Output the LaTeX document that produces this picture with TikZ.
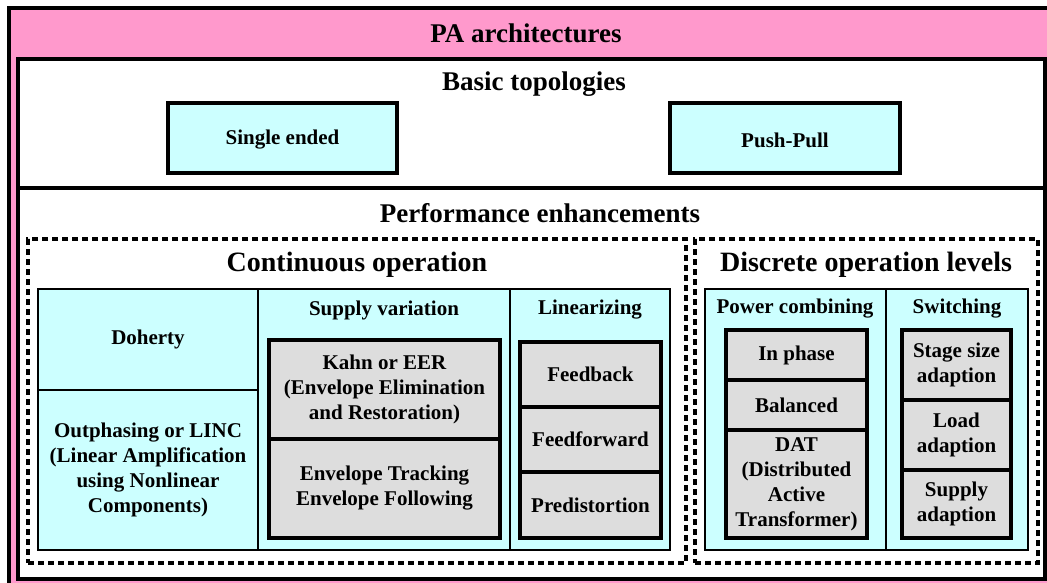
\documentclass[tikz,border=0pt]{standalone}
\usepackage{fontspec}
\setmainfont{Liberation Serif}
\usetikzlibrary{fit}
\definecolor{pinkfill}{HTML}{FF99CC}
\definecolor{cyanfill}{HTML}{CCFFFF}
\definecolor{grayfill}{HTML}{DDDDDD}
\begin{document}
\begin{tikzpicture}[x=1pt,y=-1pt,
  every node/.style={align=center},
  font=\bfseries\fontsize{21}{25}\selectfont,
  frame/.style={draw, line width=3.2pt, rectangle, inner sep=0pt},
  whitebox/.style={frame, fill=white},
  cyanbox/.style={frame, fill=cyanfill},
  cyancol/.style={frame, line width=2.8pt, fill=cyanfill},
  graybox/.style={frame, fill=grayfill},
  dashbox/.style={draw, line width=3.2pt, dash pattern=on 6pt off 4pt, rectangle, inner sep=0pt},
  bigtitle/.style={font=\bfseries\fontsize{27}{32}\selectfont, inner sep=0pt},
  bigger/.style={font=\bfseries\fontsize{28}{33}\selectfont, inner sep=0pt},
  hdr/.style={inner sep=0pt}]
\useasboundingbox (0,0) rectangle (1047,582);

% outer frame
\node[frame, fill=pinkfill, fit={(9,8) (1058,595)}] (outer) {};
\node[bigtitle] (patitle) at (526,33) {PA architectures};

% basic topologies
\node[whitebox, fit={(18,59) (1045,188)}] (basic) {};
\node[bigtitle] (basictitle) at (534,84) {Basic topologies};
\node[cyanbox, fit={(168,103) (397,173)}] (single) {};
\node at ([yshift=-2pt]single.center) {Single ended};
\node[cyanbox, fit={(670,103) (900,173)}] (pushpull) {};
\node at ([yshift=-2pt]pushpull.center) {Push-Pull};

% performance enhancements
\node[whitebox, fit={(18,188) (1045,579)}] (perf) {};
\node[bigtitle] (perftitle) at (540,213) {Performance enhancements};

% continuous operation
\node[dashbox, fit={(28,239) (686,563)}] (cont) {};
\node[bigger] (conttitle) at (357,265) {Continuous operation};

\node[cyancol, fit={(38,289) (258,390)}] (doherty) {};
\node at (doherty.center) {Doherty};
\node[cyancol, fit={(38,390) (258,550)}] (outph) {};
\node at (outph.center) {Outphasing or LINC\\(Linear Amplification\\using Nonlinear\\Components)};

\node[cyancol, fit={(258,289) (510,550)}] (supcol) {};
\node[hdr] (suphdr) at (384,310) {Supply variation};
\node[graybox, fit={(269,340) (500,439)}] (kahn) {};
\node at (kahn.center) {Kahn or EER\\(Envelope Elimination\\and Restoration)};
\node[graybox, fit={(269,439) (500,538)}] (envtrack) {};
\node at (envtrack.center) {Envelope Tracking\\Envelope Following};

\node[cyancol, fit={(510,289) (670,550)}] (lincol) {};
\node[hdr] (linhdr) at (590,310) {Linearizing};
\node[graybox, fit={(520,342) (661,407)}] (feedback) {};
\node at (feedback.center) {Feedback};
\node[graybox, fit={(520,407) (661,472)}] (feedfwd) {};
\node at (feedfwd.center) {Feedforward};
\node[graybox, fit={(520,472) (661,538)}] (predist) {};
\node at (predist.center) {Predistortion};

% discrete operation levels
\node[dashbox, fit={(695,239) (1038,563)}] (disc) {};
\node[bigger] (disctitle) at (866,265) {Discrete operation levels};

\node[cyancol, fit={(705,289) (886,550)}] (pwrcol) {};
\node[hdr] (pwrhdr) at (795,309) {Power combining};
\node[graybox, fit={(726,330) (867,380)}] (inphase) {};
\node at (inphase.center) {In phase};
\node[graybox, fit={(726,380) (867,430)}] (balanced) {};
\node at (balanced.center) {Balanced};
\node[graybox, fit={(726,430) (867,538)}] (dat) {};
\node at (dat.center) {DAT\\(Distributed\\Active\\Transformer)};

\node[cyancol, fit={(886,289) (1028,550)}] (swcol) {};
\node[hdr] (swhdr) at (957,309) {Switching};
\node[graybox, fit={(902,330) (1011,400)}] (stage) {};
\node at (stage.center) {Stage size\\adaption};
\node[graybox, fit={(902,400) (1011,470)}] (load) {};
\node at (load.center) {Load\\adaption};
\node[graybox, fit={(902,470) (1011,538)}] (supply) {};
\node at (supply.center) {Supply\\adaption};
\end{tikzpicture}
\end{document}
